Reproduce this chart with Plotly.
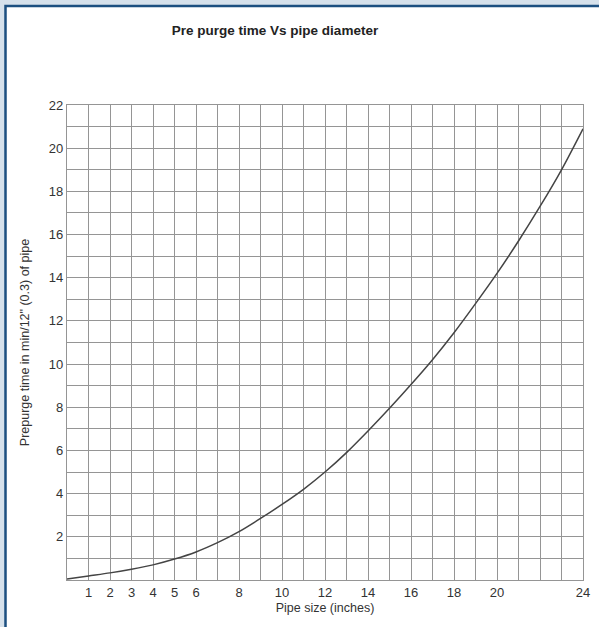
import plotly.graph_objects as go

# Data
pipe_size_in = [0, 1, 2, 3, 4, 5, 6, 7, 8, 9, 10, 11, 12, 13, 14, 15, 16, 17, 18, 19, 20, 21, 22, 23, 24]
prepurge_min = [0.05, 0.19, 0.33, 0.5, 0.7, 0.97, 1.3, 1.73, 2.24, 2.85, 3.5, 4.2, 5.0, 5.9, 6.9, 7.95, 9.05, 10.2, 11.45, 12.8, 14.2, 15.7, 17.3, 19.0, 20.9]

x_grid_vals = list(range(0, 25))
x_tick_labels = ["", "1", "2", "3", "4", "5", "6", "", "8", "", "10", "", "12", "", "14", "", "16", "", "18", "", "20", "", "", "", "24"]
y_grid_vals = list(range(0, 23))
y_tick_labels = ["" if (v % 2 or v == 0) else str(v) for v in y_grid_vals]

FONT = "Liberation Sans, Arial, Helvetica, sans-serif"
GRID = "#959595"

fig = go.Figure()
fig.add_trace(go.Scatter(
    x=pipe_size_in, y=prepurge_min, mode="lines",
    line=dict(color="#444444", width=1.5, shape="spline", smoothing=0.8),
    showlegend=False, hoverinfo="x+y",
))

# page frame (light blue surround with dark blue border)
L, R, T, B = 67, 16, 105, 47
W, H = 599, 627
pw, ph = W - L - R, H - T - B
def px(xp):
    return (xp - L) / pw
def py(yp):
    return (H - B - yp) / ph

fig.add_shape(type="rect", xref="paper", yref="paper",
              x0=px(5.5), x1=px(610), y0=py(640), y1=py(6),
              line=dict(color="#1c4f80", width=2.5), fillcolor="white", layer="below")

fig.update_layout(
    width=W, height=H,
    margin=dict(l=L, r=R, t=T, b=B, autoexpand=False),
    paper_bgcolor="#d6e1eb",
    plot_bgcolor="rgba(0,0,0,0)",
    font=dict(family=FONT, color="#333333", size=12),
    title=dict(text="<b>Pre purge time Vs pipe diameter</b>", x=275 / W, xref="container",
               xanchor="center", y=1 - 30 / H, yanchor="middle",
               font=dict(size=13.5, color="#222222")),
    xaxis=dict(
        range=[0, 24], tickmode="array", tickvals=x_grid_vals, ticktext=x_tick_labels,
        showgrid=True, gridcolor=GRID, gridwidth=1.4, zeroline=False,
        showline=True, linecolor=GRID, linewidth=1.4, mirror=True, ticks="",
        tickfont=dict(size=13, color="#333333"),
        title=dict(text="Pipe size (inches)", font=dict(size=12.5, color="#333333"), standoff=4),
    ),
    yaxis=dict(
        range=[0, 22], tickmode="array", tickvals=y_grid_vals, ticktext=y_tick_labels,
        showgrid=True, gridcolor=GRID, gridwidth=1.4, zeroline=False,
        showline=True, linecolor=GRID, linewidth=1.4, mirror=True, ticks="",
        tickfont=dict(size=13, color="#333333"),
        title=dict(text='Prepurge time in min/12" (0.3) of pipe', font=dict(size=12.5, color="#333333"), standoff=16),
    ),
)

fig.write_html("out.html", config={"displayModeBar": False},
               post_script="document.body.style.margin='0';document.body.style.overflow='hidden';")
